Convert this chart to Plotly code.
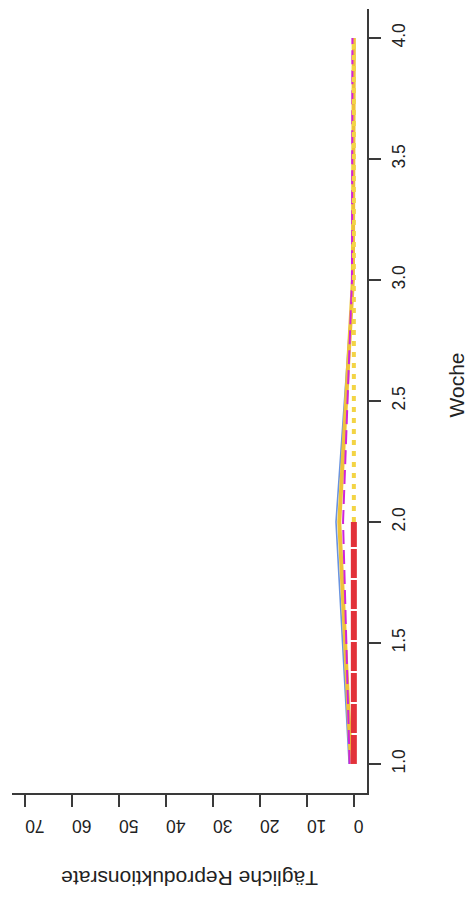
import plotly.graph_objects as go

# Weekly daily reproduction rate per scenario (rotated layout: week runs bottom-to-top)
woche = [1, 2, 3, 4]
rate_blau = [1.0, 3.8, 0.2, 0.0]
rate_gold = [0.6, 3.1, 0.2, 0.0]
rate_magenta = [0.9, 2.3, 0.4, 0.3]
rate_rot = [0.0, 0.0, None, None]
rate_gelb = [None, 0.0, 0.0, 0.0]

rate_ticks = [0, 10, 20, 30, 40, 50, 60, 70]
woche_ticks = [1.0, 1.5, 2.0, 2.5, 3.0, 3.5, 4.0]
woche_ticktext = ["1.0", "1.5", "2.0", "2.5", "3.0", "3.5", "4.0"]

FONT = "Liberation Sans, Arial, sans-serif"
AXIS_COL = "#3a3a3a"

fig = go.Figure()

series = [
    (rate_blau, dict(color="#6A93E0", width=1.6)),
    (rate_gold, dict(color="#EFC23A", width=4)),
    (rate_magenta, dict(color="#D024D8", width=2, dash="14px,6px")),
    (rate_gelb, dict(color="#F3D445", width=4, dash="5px,6px")),
    (rate_rot, dict(color="#E2323A", width=6, dash="29px,2px")),
]
for vals, line in series:
    fig.add_trace(go.Scatter(x=vals, y=woche, mode="lines", line=line,
                             connectgaps=False, showlegend=False, hoverinfo="skip"))

fig.update_layout(
    width=469, height=899,
    margin=dict(l=12, r=102, t=9, b=106),
    paper_bgcolor="white", plot_bgcolor="white",
    font=dict(family=FONT, size=17, color="#222222"),
    xaxis=dict(
        range=[72.8, -2.8], tickvals=rate_ticks, ticks="outside", ticklen=12,
        tickwidth=1.5, tickcolor=AXIS_COL, showline=True, linecolor=AXIS_COL,
        linewidth=1.5, showgrid=False, zeroline=False, tickangle=180,
        tickfont=dict(size=17.5), ticklabelstandoff=10,
    ),
    yaxis=dict(
        range=[0.88, 4.12], tickvals=woche_ticks, ticktext=woche_ticktext,
        side="right", ticks="outside", ticklen=12, tickwidth=1.5,
        tickcolor=AXIS_COL, showline=True, linecolor=AXIS_COL, linewidth=1.5,
        showgrid=False, zeroline=False, tickangle=-90, tickfont=dict(size=17.5),
        ticklabelstandoff=3,
    ),
    annotations=[
        dict(text="Tägliche Reproduktionsrate", xref="paper", yref="paper",
             x=0.5, y=-0.109, xanchor="center", yanchor="middle",
             textangle=180, showarrow=False, font=dict(size=21)),
        dict(text="Woche", xref="paper", yref="paper",
             x=1.251, y=0.52, xanchor="center", yanchor="middle",
             textangle=-90, showarrow=False, font=dict(size=21)),
    ],
)

fig.write_html("out.html")
